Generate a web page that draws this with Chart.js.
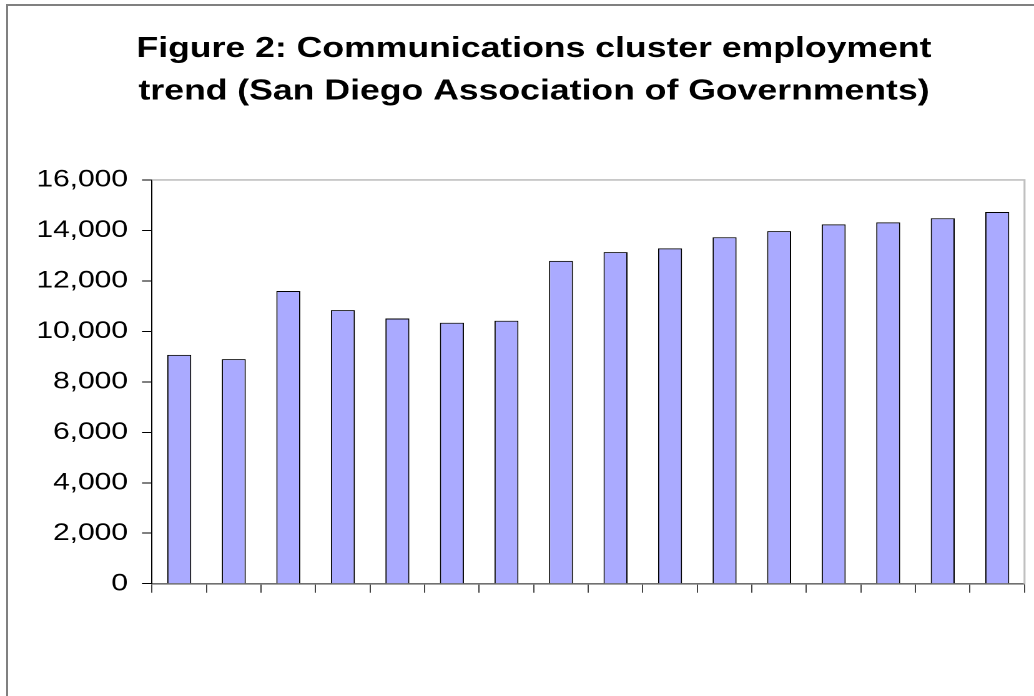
<!DOCTYPE html>
<html>
<head>
<meta charset="utf-8">
<script src="https://cdn.jsdelivr.net/npm/chart.js@4/dist/chart.umd.min.js"></script>
<style>
  html, body { margin: 0; padding: 0; background: #fff; overflow: hidden; width: 1034px; height: 696px; }
  #frame { position: absolute; left: 6px; top: 4px; width: 3000px; height: 3000px; border: 2px solid #808080; box-sizing: border-box; }
  #wrap { position: absolute; left: 0; top: 0; width: 828px; height: 696px; transform: scaleX(1.2488); transform-origin: 0 0; }
  canvas { display: block; }
</style>
</head>
<body>
<div id="frame"></div>
<div id="wrap"><canvas id="c" width="828" height="696" style="width:828px;height:696px"></canvas></div>
<script>
// ---- data ----
const titleLines = ['Figure 2: Communications cluster employment', 'trend (San Diego Association of Governments)'];
const categories = ['P1','P2','P3','P4','P5','P6','P7','P8','P9','P10','P11','P12','P13','P14','P15','P16'];
const employment = [9070, 8900, 11600, 10840, 10510, 10340, 10420, 12790, 13140, 13290, 13730, 13970, 14240, 14320, 14480, 14730];
const yTickMin = 0;
const yTickMax = 16000;
const yTickStep = 2000;

const FONT = "'Liberation Sans', Arial, sans-serif";

const plotFrame = {
  id: 'plotFrame',
  afterLayout(chart) {
    // centre the title block over the same span as the original figure
    if (chart.titleBlock) { chart.titleBlock.left = 34.8; }
  },
  afterDatasetsDraw(chart) {
    const {ctx, chartArea: a} = chart;
    ctx.save();
    ctx.strokeStyle = '#c0c0c0';
    ctx.lineWidth = 1.6;
    ctx.beginPath();
    ctx.moveTo(a.left, a.top);
    ctx.lineTo(a.right, a.top);
    ctx.lineTo(a.right, a.bottom);
    ctx.stroke();
    ctx.restore();
  }
};

new Chart(document.getElementById('c'), {
  type: 'bar',
  data: {
    labels: categories,
    datasets: [{
      data: employment,
      backgroundColor: '#aaaaff',
      borderColor: '#000000',
      borderWidth: 1,
      barPercentage: 0.44,
      categoryPercentage: 1.0
    }]
  },
  options: {
    responsive: false,
    maintainAspectRatio: false,
    devicePixelRatio: 2,
    animation: false,
    layout: { padding: { left: 15, right: 7.6, top: 0, bottom: 92.3 } },
    plugins: {
      legend: { display: false },
      tooltip: { enabled: false },
      title: {
        display: true,
        text: titleLines,
        color: '#000',
        font: { family: FONT, size: 28.5, weight: 'bold', lineHeight: 1.49 },
        padding: { top: 27.75, bottom: 67.25 }
      }
    },
    scales: {
      x: {
        offset: true,
        afterFit: (s) => { s.height = 20; },
        ticks: { display: false },
        grid: {
          display: true,
          offset: true,
          drawOnChartArea: false,
          drawTicks: true,
          tickLength: 9,
          color: '#444',
          lineWidth: 1
        },
        border: { display: true, color: '#707070', width: 1.6 }
      },
      y: {
        min: yTickMin,
        max: yTickMax,
        afterFit: (s) => { s.width = 106.7; },
        ticks: {
          stepSize: yTickStep,
          color: '#000',
          padding: 11.2,
          font: { family: FONT, size: 24 },
          callback: (v) => Number(v).toLocaleString('en-US')
        },
        grid: {
          display: true,
          drawOnChartArea: false,
          drawTicks: true,
          tickLength: 8,
          color: '#000',
          lineWidth: 1
        },
        border: { display: true, color: '#000', width: 1 }
      }
    }
  },
  plugins: [plotFrame]
});
</script>
</body>
</html>
